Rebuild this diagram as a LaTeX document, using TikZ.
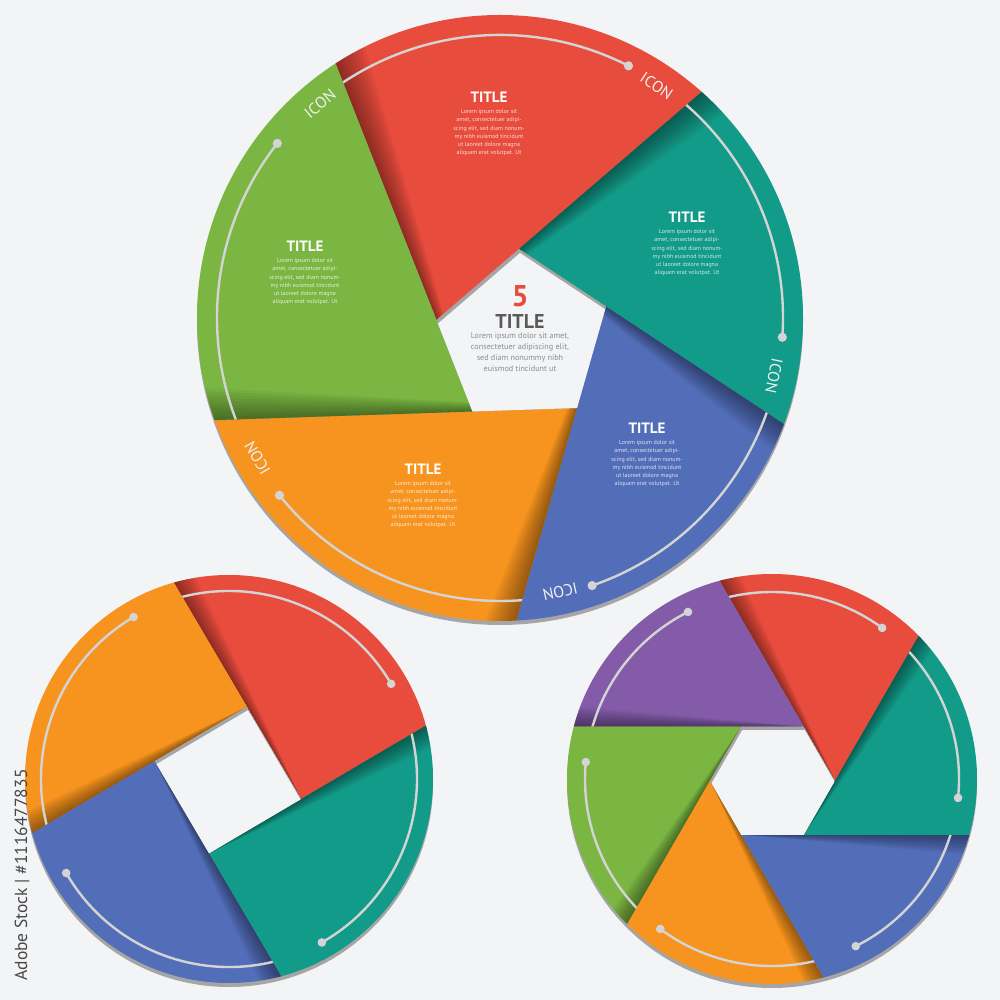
\documentclass[tikz,border=0pt]{standalone}
\usepackage{fontspec}
\setmainfont{PT Sans}
\usetikzlibrary{calc}
\definecolor{bg}{HTML}{F3F4F6}
\definecolor{cred}{HTML}{E84C3D}
\definecolor{cteal}{HTML}{139B89}
\definecolor{cblue}{HTML}{536EB8}
\definecolor{corange}{HTML}{F6941F}
\definecolor{cgreen}{HTML}{7BB642}
\definecolor{cpurple}{HTML}{835BA8}
\definecolor{arcgray}{HTML}{D4D4D4}
\definecolor{rimgray}{HTML}{A5A5A5}
\definecolor{ctitle}{HTML}{5A5A5A}
\definecolor{clorem}{HTML}{8C8C8C}
\newcommand\blorem{Lorem ipsum dolor sit\\amet, consectetuer adipi-\\scing elit, sed diam nonum-\\my nibh euismod tincidunt\\ut laoreet dolore magna\\aliquam erat volutpat. Ut}
\tikzset{
  arcline/.style={draw=arcgray, line width=2.4pt},
  dotmark/.style={fill=arcgray},
  shadewedge/.style={fill=black, opacity=0.044},
  ttl/.style={text=white, font=\fontsize{15}{15}\selectfont\bfseries, inner sep=0pt},
  loremtxt/.style={text=white, text opacity=0.8, font=\fontsize{6}{8.3}\selectfont, align=center, inner sep=0pt, anchor=north},
  iconlbl/.style={text=white!88!gray, font=\fontsize{16}{16}\selectfont, inner sep=0pt},
}
\begin{document}
\begin{tikzpicture}[x=1pt, y=1pt]
\fill[bg] (0,0) rectangle (1000,1000);
\useasboundingbox (0,0) rectangle (1000,1000);

% ===== big circle (pentagon) =====
\coordinate (C1) at (500,682);
\coordinate (P0) at (436.5,680);
\coordinate (P1) at (519,751);
\coordinate (P2) at (606,693.5);
\coordinate (P3) at (577,592);
\coordinate (P4) at (472.5,588.5);
\fill[rimgray] ($(C1)+(0,-4)$) circle (303);
\foreach \pa/\pb/\pc/\pcol/\pd in {P4/P0/P1/cred/63, P0/P1/P2/cteal/-3.9, P1/P2/P3/cblue/-71, P2/P3/P4/corange/218.8, P3/P4/P0/cgreen/141.9}{
  \begin{scope}
    \clip (C1) circle (303);
    \clip (\pb) -- (\pc) -- ($(\pb)!15!(\pc)$) -- ($(\pa)!15!(\pb)$) -- cycle;
    \fill[\pcol] (C1) circle (310);
    \coordinate (sF) at ($(\pa)!15!(\pb)$);
    \foreach \dd in {0.5,1,...,5}
      \fill[shadewedge] (\pa) -- ($(\pa)!1!\dd:(sF)$) -- ($(\pa)!1!-\dd:(sF)$) -- cycle;
    \draw[arcline] ($(C1)+(\pd:283)$) arc[start angle=\pd, delta angle=130, radius=283];
  \end{scope}
  \fill[dotmark] ($(C1)+(\pd:283)$) circle (4.6);
}
\begin{scope}
  \clip (P0)--(P1)--(P2)--(P3)--(P4)--cycle;
  \fill[rimgray] (P0)--(P1)--(P2)--(P3)--(P4)--cycle;
  \fill[bg] ($(P0)+(1,-4)$)--($(P1)+(1,-4)$)--($(P2)+(1,-4)$)--($(P3)+(1,-4)$)--($(P4)+(1,-4)$)--cycle;
\end{scope}
\foreach \ang/\nm in {56/ia,-12/ib,-77.6/ic,210/id,130/ie}
  \node[iconlbl, rotate=\ang-90] (\nm) at ($(C1)+(\ang:280)$) {ICON};

\node[ttl] (t1) at (489,903) {TITLE};
\node[loremtxt] (l1) at (489,891) {\blorem};
\node[ttl] (t2) at (687,783) {TITLE};
\node[loremtxt] (l2) at (687,771) {\blorem};
\node[ttl] (t3) at (305,754) {TITLE};
\node[loremtxt] (l3) at (305,742) {\blorem};
\node[ttl] (t4) at (423,531) {TITLE};
\node[loremtxt] (l4) at (423,519) {\blorem};
\node[ttl] (t5) at (647,572) {TITLE};
\node[loremtxt] (l5) at (647,560) {\blorem};

\node[text=cred, font=\fontsize{30}{30}\selectfont\bfseries, inner sep=0pt] (five) at (520,704) {5};
\node[text=ctitle, font=\fontsize{20}{20}\selectfont\bfseries, inner sep=0pt] (ctit) at (520,678) {TITLE};
\node[text=clorem, font=\fontsize{8.2}{10.7}\selectfont, align=center, inner sep=0pt, anchor=north] (clor) at (520,667) {Lorem ipsum dolor sit amet,\\consectetuer adipiscing elit,\\sed diam nonummy nibh\\euismod tincidunt ut};

% ===== left small circle (square) =====
\coordinate (C2) at (229,221);
\coordinate (H2) at (228,220);
\foreach \i/\ang in {0/-14.5,1/75.5,2/165.5,3/255.5} \coordinate (Q\i) at ($(H2)+(\ang:75.7)$);
\fill[rimgray] ($(C2)+(0,-4)$) circle (204);
\foreach \pa/\pb/\pc/\pcol/\pd in {Q3/Q0/Q1/cred/30.4, Q0/Q1/Q2/corange/120.5, Q1/Q2/Q3/cblue/210, Q2/Q3/Q0/cteal/-60.4}{
  \begin{scope}
    \clip (C2) circle (204);
    \clip (\pb) -- (\pc) -- ($(\pb)!15!(\pc)$) -- ($(\pa)!15!(\pb)$) -- cycle;
    \fill[\pcol] (C2) circle (210);
    \coordinate (sF) at ($(\pb)!15!(\pc)$);
    \foreach \dd in {0.5,1,...,5}
      \fill[shadewedge] (\pb) -- ($(\pb)!1!\dd:(sF)$) -- ($(\pb)!1!-\dd:(sF)$) -- cycle;
    \draw[arcline] ($(C2)+(\pd:188)$) arc[start angle=\pd, delta angle=120, radius=188];
  \end{scope}
  \fill[dotmark] ($(C2)+(\pd:188)$) circle (4.3);
}
\begin{scope}
  \clip (Q0)--(Q1)--(Q2)--(Q3)--cycle;
  \fill[rimgray] (Q0)--(Q1)--(Q2)--(Q3)--cycle;
  \fill[bg] ($(Q0)+(1,-3.5)$)--($(Q1)+(1,-3.5)$)--($(Q2)+(1,-3.5)$)--($(Q3)+(1,-3.5)$)--cycle;
\end{scope}

% ===== right small circle (hexagon) =====
\coordinate (C3) at (772,221);
\coordinate (H3) at (772.5,219.3);
\foreach \i in {0,...,5} \coordinate (X\i) at ($(H3)+(60*\i:62.5)$);
\fill[rimgray] ($(C3)+(0,-4)$) circle (205);
\foreach \pa/\pb/\pc/\pcol/\pd in {X5/X0/X1/cred/53.9, X0/X1/X2/cpurple/116.7, X1/X2/X3/cgreen/174.8, X2/X3/X4/corange/233.3, X3/X4/X5/cblue/296.6, X4/X5/X0/cteal/354.2}{
  \begin{scope}
    \clip (C3) circle (205);
    \clip (\pb) -- (\pc) -- ($(\pb)!15!(\pc)$) -- ($(\pa)!15!(\pb)$) -- cycle;
    \fill[\pcol] (C3) circle (210);
    \coordinate (sF) at ($(\pb)!15!(\pc)$);
    \foreach \dd in {0.5,1,...,5}
      \fill[shadewedge] (\pb) -- ($(\pb)!1!\dd:(sF)$) -- ($(\pb)!1!-\dd:(sF)$) -- cycle;
    \draw[arcline] ($(C3)+(\pd:187)$) arc[start angle=\pd, delta angle=120, radius=187];
  \end{scope}
  \fill[dotmark] ($(C3)+(\pd:187)$) circle (4.3);
}
\begin{scope}
  \clip (X0)--(X1)--(X2)--(X3)--(X4)--(X5)--cycle;
  \fill[rimgray] (X0)--(X1)--(X2)--(X3)--(X4)--(X5)--cycle;
  \fill[bg] ($(X0)+(1,-3.5)$)--($(X1)+(1,-3.5)$)--($(X2)+(1,-3.5)$)--($(X3)+(1,-3.5)$)--($(X4)+(1,-3.5)$)--($(X5)+(1,-3.5)$)--cycle;
\end{scope}

\node[rotate=90, text=black!72, font=\fontsize{17.5}{17.5}\selectfont, inner sep=0pt] (wm) at (22,125) {Adobe Stock | \#1116477835};
\end{tikzpicture}
\end{document}
